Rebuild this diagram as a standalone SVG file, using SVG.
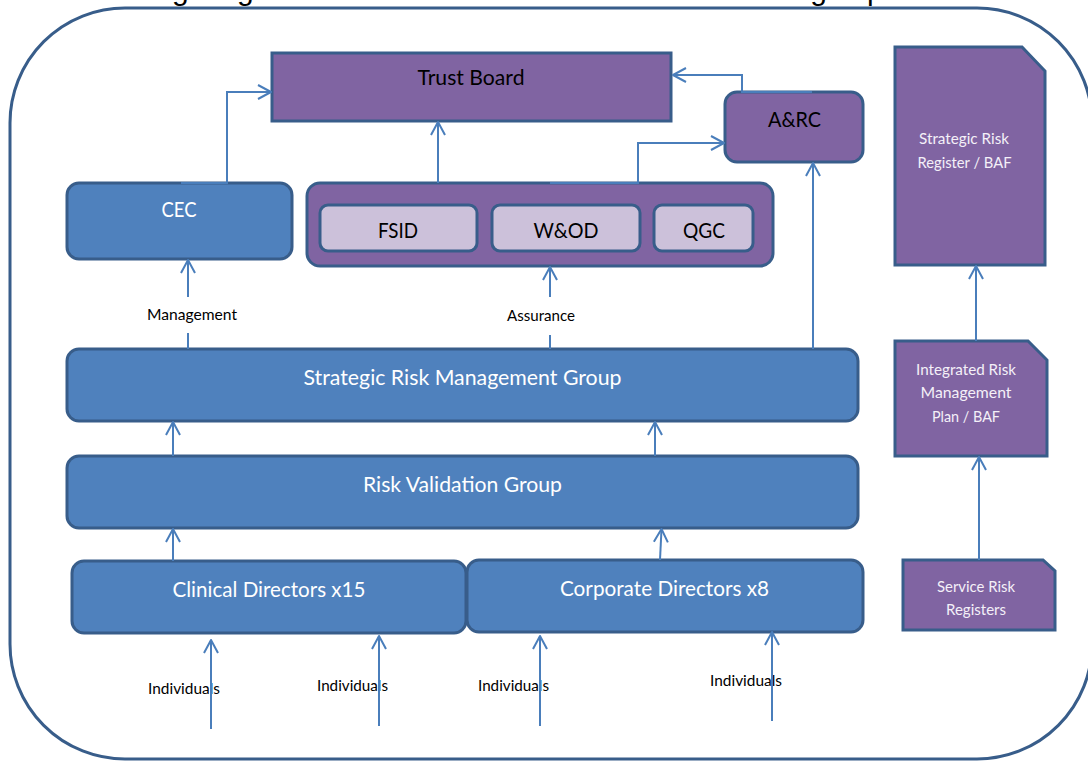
<svg xmlns="http://www.w3.org/2000/svg" width="1088" height="761" viewBox="0 0 1088 761">
<defs>
<style>
.frame{fill:none;stroke:#385D8A;stroke-width:3}
.blue{fill:#4F81BD;stroke:#385D8A;stroke-width:3}
.purple{fill:#8064A2;stroke:#385D8A;stroke-width:3}
.lilac{fill:#CCC1DA;stroke:#385D8A;stroke-width:3}
.conn{fill:none;stroke:#4A7EBB;stroke-width:2}
.arr{marker-end:url(#ah)}
.t{font-family:Lato,"Liberation Sans",sans-serif;font-size:21px;text-anchor:middle}
.w{fill:#FFFFFF}
.k{fill:#000000}
.s{font-family:Lato,"Liberation Sans",sans-serif;font-size:15px;text-anchor:middle}
.d{font-family:Lato,"Liberation Sans",sans-serif;font-size:15px;text-anchor:middle;fill:#F4F0F8}
</style>
<marker id="ah" markerUnits="userSpaceOnUse" markerWidth="20" markerHeight="20" viewBox="0 0 20 20" refX="14" refY="8" orient="auto">
<path d="M1,1 L14,8 L1,15" fill="none" stroke="#4A7EBB" stroke-width="2" stroke-linejoin="round"/>
</marker>
</defs>
<rect width="1088" height="761" fill="#FFFFFF"/>
<text x="12" y="-0.5" font-family="'Liberation Sans',Arial,sans-serif" font-size="29.3" fill="#000000" textLength="995" lengthAdjust="spacingAndGlyphs">The following diagram shows the Governance structure being implemented</text>
<rect class="frame" x="10" y="8" width="1082" height="751" rx="115" ry="115"/>

<g id="trust-board">
<rect class="purple" x="272" y="53" width="399" height="68"/>
<text class="t k" x="471" y="85" textLength="107" lengthAdjust="spacingAndGlyphs">Trust Board</text>
</g>
<g id="arc">
<rect class="purple" x="725" y="92" width="138" height="70" rx="12"/>
<text class="t k" x="794.5" y="127" textLength="53" lengthAdjust="spacingAndGlyphs">A&amp;RC</text>
</g>
<g id="cec">
<rect class="blue" x="67" y="183" width="225" height="76" rx="12"/>
<text class="t w" x="179" y="217" textLength="35" lengthAdjust="spacingAndGlyphs">CEC</text>
</g>
<g id="committees">
<rect class="purple" x="307" y="183" width="466" height="83" rx="13"/>
</g>
<g id="fsid">
<rect class="lilac" x="320" y="205" width="157" height="46" rx="8"/>
<text class="t k" x="398" y="238" textLength="40" lengthAdjust="spacingAndGlyphs">FSID</text>
</g>
<g id="wod">
<rect class="lilac" x="492" y="205" width="148" height="46" rx="8"/>
<text class="t k" x="566" y="238" textLength="65" lengthAdjust="spacingAndGlyphs">W&amp;OD</text>
</g>
<g id="qgc">
<rect class="lilac" x="654" y="205" width="99" height="46" rx="8"/>
<text class="t k" x="704" y="238" textLength="42" lengthAdjust="spacingAndGlyphs">QGC</text>
</g>
<g id="srmg">
<rect class="blue" x="67" y="349" width="791" height="72" rx="12"/>
<text class="t w" x="462.5" y="385" textLength="318" lengthAdjust="spacingAndGlyphs">Strategic Risk Management Group</text>
</g>
<g id="rvg">
<rect class="blue" x="67" y="456" width="791" height="72" rx="12"/>
<text class="t w" x="462.5" y="492" textLength="199" lengthAdjust="spacingAndGlyphs">Risk Validation Group</text>
</g>
<g id="clinical">
<rect class="blue" x="72" y="561" width="394" height="72" rx="12"/>
<text class="t w" x="269" y="597" textLength="193" lengthAdjust="spacingAndGlyphs">Clinical Directors x15</text>
</g>
<g id="corporate">
<rect class="blue" x="467" y="560" width="396" height="72" rx="12"/>
<text class="t w" x="664.5" y="596" textLength="209" lengthAdjust="spacingAndGlyphs">Corporate Directors x8</text>
</g>
<g id="srr">
<path class="purple" d="M895,47 L1022,47 L1045,71 L1045,265 L895,265 Z"/>
<text class="d" x="964" y="144" textLength="90" lengthAdjust="spacingAndGlyphs">Strategic Risk</text>
<text class="d" x="964.5" y="168" textLength="94" lengthAdjust="spacingAndGlyphs">Register / BAF</text>
</g>
<g id="irmp">
<path class="purple" d="M895,341 L1028,341 L1047,360 L1047,456 L895,456 Z"/>
<text class="d" x="966" y="375" textLength="100" lengthAdjust="spacingAndGlyphs">Integrated Risk</text>
<text class="d" x="966" y="398" textLength="91" lengthAdjust="spacingAndGlyphs">Management</text>
<text class="d" x="966" y="422" textLength="68" lengthAdjust="spacingAndGlyphs">Plan / BAF</text>
</g>
<g id="service">
<path class="purple" d="M903,560 L1043,560 L1055,571 L1055,630 L903,630 Z"/>
<text class="d" x="976" y="592" textLength="78" lengthAdjust="spacingAndGlyphs">Service Risk</text>
<text class="d" x="976" y="615" textLength="60" lengthAdjust="spacingAndGlyphs">Registers</text>
</g>

<g id="labels">
<text class="s k" x="192" y="320" textLength="90" lengthAdjust="spacingAndGlyphs">Management</text>
<text class="s k" x="541" y="321" textLength="68" lengthAdjust="spacingAndGlyphs">Assurance</text>
<text class="s k" x="184" y="694" textLength="72" lengthAdjust="spacingAndGlyphs">Individuals</text>
<text class="s k" x="352.5" y="691" textLength="71" lengthAdjust="spacingAndGlyphs">Individuals</text>
<text class="s k" x="513.5" y="691" textLength="71" lengthAdjust="spacingAndGlyphs">Individuals</text>
<text class="s k" x="746" y="686" textLength="72" lengthAdjust="spacingAndGlyphs">Individuals</text>
</g>

<g id="connectors">
<polyline class="conn arr" points="181,183 227,183 227,92 271,92"/>
<polyline class="conn arr" points="812,92 742,92 742,75 673,75"/>
<line class="conn arr" x1="438" y1="183" x2="438" y2="122"/>
<polyline class="conn arr" points="550,183 638,183 638,143 724,143"/>
<line class="conn arr" x1="813" y1="349" x2="813" y2="163"/>
<line class="conn" x1="188" y1="349" x2="188" y2="333"/>
<line class="conn arr" x1="188" y1="297" x2="188" y2="260"/>
<line class="conn" x1="550" y1="349" x2="550" y2="335"/>
<line class="conn arr" x1="550" y1="297" x2="550" y2="267"/>
<line class="conn arr" x1="173" y1="456" x2="173" y2="422"/>
<line class="conn arr" x1="655" y1="456" x2="655" y2="422"/>
<line class="conn arr" x1="173" y1="561" x2="173" y2="529"/>
<line class="conn arr" x1="660" y1="560" x2="661.5" y2="529"/>
<line class="conn arr" x1="211" y1="729" x2="211" y2="640"/>
<line class="conn arr" x1="379" y1="726" x2="379" y2="636"/>
<line class="conn arr" x1="540" y1="726" x2="540" y2="636"/>
<line class="conn arr" x1="772" y1="721" x2="772" y2="632"/>
<line class="conn arr" x1="976" y1="341" x2="976" y2="266"/>
<line class="conn arr" x1="979" y1="560" x2="979" y2="457"/>
</g>
</svg>
